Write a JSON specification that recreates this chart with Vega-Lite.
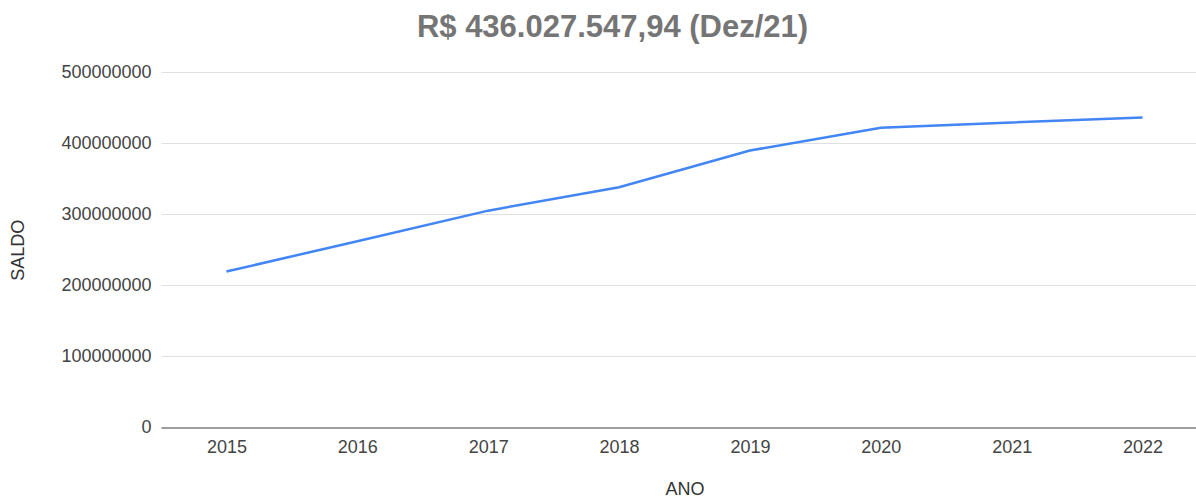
{
  "$schema": "https://vega.github.io/schema/vega-lite/v6.json",
  "autosize": "none",
  "width": 1047,
  "height": 355.5,
  "padding": {"left": 161, "top": 72, "right": 0, "bottom": 74},
  "background": "white",
  "title": {
    "text": "R$ 436.027.547,94 (Dez/21)",
    "font": "Liberation Sans",
    "fontSize": 31,
    "fontWeight": "bold",
    "color": "#757575",
    "anchor": "middle",
    "frame": "group",
    "dx": -72,
    "offset": 19
  },
  "config": {
    "view": {"stroke": null},
    "axis": {
      "labelFont": "Liberation Sans",
      "titleFont": "Liberation Sans",
      "labelFontSize": 18,
      "titleFontSize": 18,
      "labelColor": "#444444",
      "titleColor": "#333333",
      "titleFontWeight": "normal"
    }
  },
  "data": {
    "values": [
      {"ano": "2015", "saldo": 219400000},
      {"ano": "2016", "saldo": 262000000},
      {"ano": "2017", "saldo": 305000000},
      {"ano": "2018", "saldo": 338000000},
      {"ano": "2019", "saldo": 389500000},
      {"ano": "2020", "saldo": 421500000},
      {"ano": "2021", "saldo": 429000000},
      {"ano": "2022", "saldo": 436027547.94}
    ]
  },
  "mark": {"type": "line", "color": "#4285F4", "strokeWidth": 2.5},
  "encoding": {
    "x": {
      "field": "ano",
      "type": "ordinal",
      "title": "ANO",
      "scale": {"type": "point", "padding": 0.5},
      "axis": {
        "labelAngle": 0,
        "ticks": false,
        "grid": false,
        "domainColor": "#9e9e9e",
        "domainWidth": 2,
        "labelPadding": 11,
        "titlePadding": 24
      }
    },
    "y": {
      "field": "saldo",
      "type": "quantitative",
      "title": "SALDO",
      "scale": {"domain": [0, 500000000], "nice": false},
      "axis": {
        "values": [0, 100000000, 200000000, 300000000, 400000000, 500000000],
        "format": "d",
        "ticks": false,
        "domain": false,
        "gridColor": "#e0e0e0",
        "gridWidth": 1.2,
        "labelPadding": 10,
        "titlePadding": 33
      }
    }
  }
}
